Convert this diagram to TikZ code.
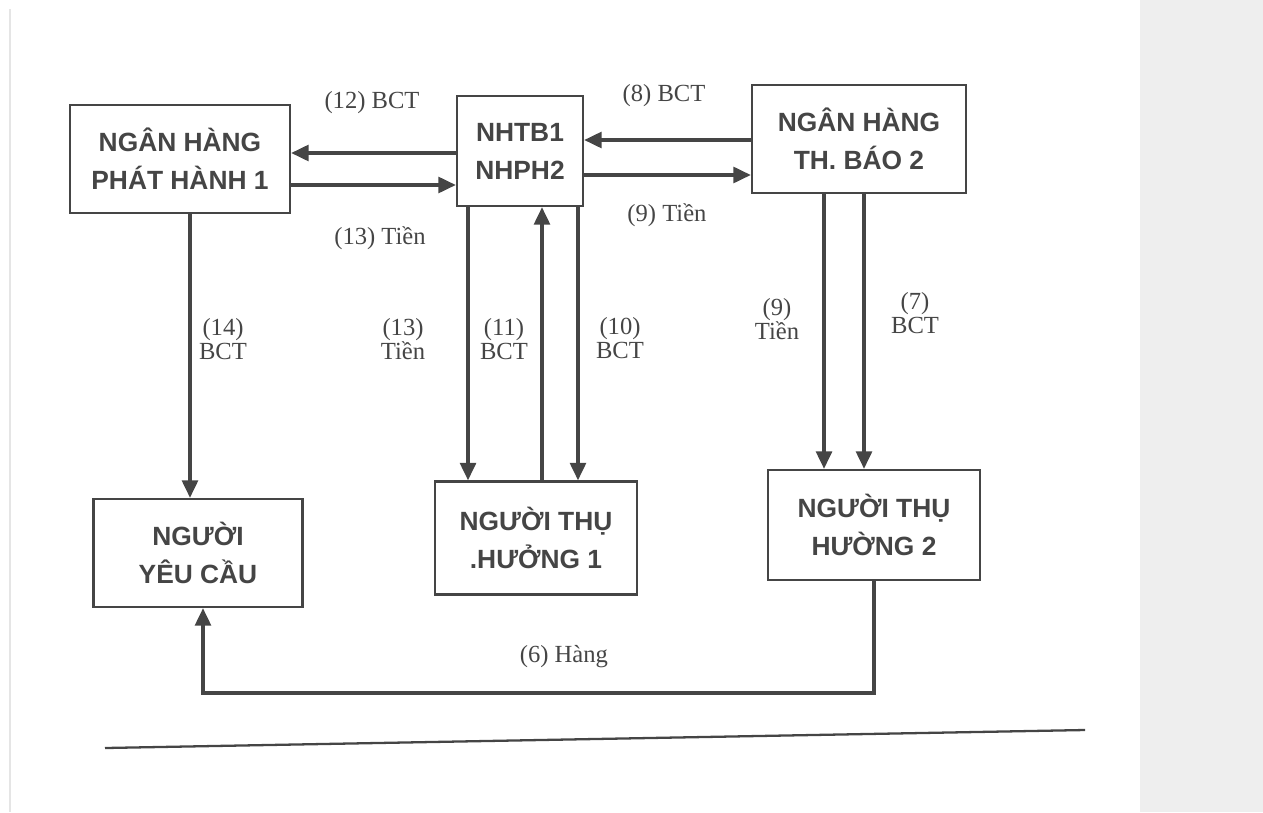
\documentclass[tikz,border=0pt]{standalone}
\usepackage{fontspec}
\setmainfont{Liberation Serif}
\newfontfamily\headfont{Liberation Sans}
\usetikzlibrary{arrows.meta}
\usepackage{xcolor}
\definecolor{ink}{HTML}{454545}
\definecolor{panel}{HTML}{EEEEEE}

\begin{document}
\begin{tikzpicture}[x=0.02cm, y=-0.02cm,
        bank/.style={draw=ink, line width=1.3pt, fill=white, align=center, text=ink,
            font=\headfont\bfseries\fontsize{15}{21.6}\selectfont, inner sep=2pt},
        flow/.style={draw=ink, line width=2pt, -{Triangle[length=10pt,width=9pt]}},
        lbl/.style={text=ink, align=center, font=\fontsize{14}{13.5}\selectfont, inner sep=1pt}]
        \useasboundingbox (0,0) rectangle (1263,812);

        % Page edges
        \fill[panel] (1140,0) rectangle (1263,812);
        \draw[gray!20, line width=1.2pt] (10,9) -- (10,812);

        % Banks and parties
        \node[bank, minimum width=4.4cm, minimum height=2.16cm] (ph1) at (180,159) {NGÂN HÀNG\\PHÁT HÀNH 1};
        \node[bank, minimum width=2.52cm, minimum height=2.2cm] (nh1) at (520,151) {NHTB1\\NHPH2};
        \node[bank, minimum width=4.28cm, minimum height=2.16cm] (nh2) at (859,139) {NGÂN HÀNG\\TH. BÁO 2};
        \node[bank, minimum width=4.18cm, minimum height=2.16cm] (yc) at (198,553) {NGƯỜI\\YÊU CẦU};
        \node[bank, minimum width=4.04cm, minimum height=2.26cm] (nt1) at (536,538) {NGƯỜI THỤ\\.HƯỞNG 1};
        \node[bank, minimum width=4.24cm, minimum height=2.2cm] (nt2) at (874,525) {NGƯỜI THỤ\\HƯỜNG 2};

        % Flows between the banks
        \draw[flow] ([yshift=-0.04cm]nh1.west) -- ([yshift=-0.04cm]nh1.west -| ph1.east);
        \draw[flow] ([yshift=-0.52cm]ph1.east) -- ([yshift=-0.52cm]ph1.east -| nh1.west);
        \draw[flow] ([yshift=-0.02cm]nh2.west) -- ([yshift=-0.02cm]nh2.west -| nh1.east);
        \draw[flow] ([yshift=-0.48cm]nh1.east) -- ([yshift=-0.48cm]nh1.east -| nh2.west);

        % Flows down to the parties
        \draw[flow] ([xshift=0.2cm]ph1.south) -- ([xshift=0.2cm]ph1.south |- yc.north);
        \draw[flow] ([xshift=-1.04cm]nh1.south) -- ([xshift=-1.04cm]nh1.south |- nt1.north);
        \draw[flow] ([xshift=0.44cm]nh1.south |- nt1.north) -- ([xshift=0.44cm]nh1.south);
        \draw[flow] ([xshift=1.16cm]nh1.south) -- ([xshift=1.16cm]nh1.south |- nt1.north);
        \draw[flow] ([xshift=-0.7cm]nh2.south) -- ([xshift=-0.7cm]nh2.south |- nt2.north);
        \draw[flow] ([xshift=0.1cm]nh2.south) -- ([xshift=0.1cm]nh2.south |- nt2.north);

        % Goods back to the applicant
        \coordinate (hang) at (0,693);
        \draw[flow] (nt2.south) -- (nt2.south |- hang) -| ([xshift=0.1cm]yc.south);

        % Labels
        \foreach \nm/\px/\py/\txt in {
            lab12/372/103/{(12) BCT},
            lab13a/380/238/{(13) Tiền},
            lab8/664/96/{(8) BCT},
            lab9a/667/215/{(9) Tiền},
            lab14/223/339/{(14)\\BCT},
            lab13b/403/339/{(13)\\Tiền},
            lab11/504/339/{(11)\\BCT},
            lab10/620/338/{(10)\\BCT},
            lab9b/777/319/{(9)\\Tiền},
            lab7/915/313/{(7)\\BCT},
            lab6/567/657/{(6) Hàng}
        } {
            \node[lbl] (\nm) at (\px,\py) {\txt};
        }

        % Rule under the figure
        \draw[ink, line width=1.3pt] (105,748) -- (1085,730);
    \end{tikzpicture}
\end{document}
